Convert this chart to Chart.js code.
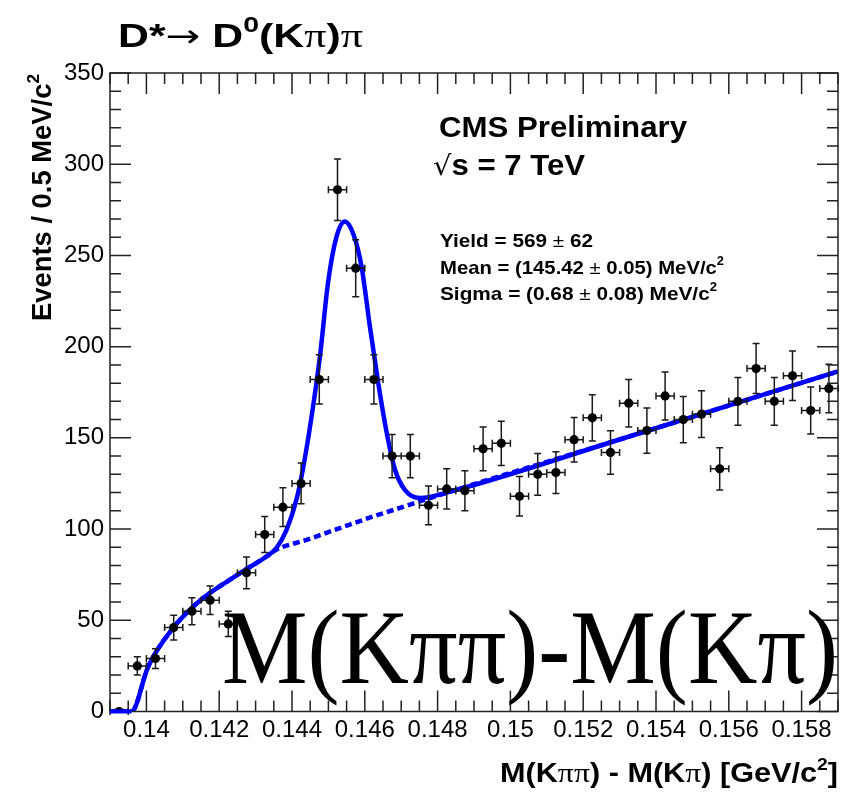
<!DOCTYPE html>
<html>
<head>
<meta charset="utf-8">
<title>D* to D0(K pi) pi</title>
<script src="https://cdn.jsdelivr.net/npm/chart.js@4.4.1/dist/chart.umd.min.js"></script>
<style>
  html, body { margin: 0; padding: 0; background: #fff; }
</style>
</head>
<body>
<canvas id="massChart" width="864" height="794"></canvas>
<script>
// bin centres, GeV/c^2 (0.5 MeV bins)
const massBins = [0.13925, 0.13975, 0.14025, 0.14075, 0.14125, 0.14175, 0.14225, 0.14275, 0.14325, 0.14375,
  0.14425, 0.14475, 0.14525, 0.14575, 0.14625, 0.14675, 0.14725, 0.14775, 0.14825, 0.14875,
  0.14925, 0.14975, 0.15025, 0.15075, 0.15125, 0.15175, 0.15225, 0.15275, 0.15325, 0.15375,
  0.15425, 0.15475, 0.15525, 0.15575, 0.15625, 0.15675, 0.15725, 0.15775, 0.15825, 0.15875];
// events per bin
const counts = [0, 25, 29, 46, 55, 61, 48, 76, 97, 112,
  125, 182, 286, 243, 182, 140, 140, 113, 122, 121,
  144, 147, 118, 130, 131, 149, 161, 142, 169, 154,
  173, 160, 163, 133, 170, 188, 170, 184, 165, 177];

// total fit (signal + background)
const fitMass = [0.139, 0.13959, 0.14005, 0.14073, 0.14124, 0.14174, 0.14229, 0.14272, 0.1433, 0.14357,
  0.14385, 0.14412, 0.14431, 0.14454, 0.14477, 0.14499, 0.14522, 0.14545, 0.14568, 0.14591,
  0.14614, 0.14637, 0.1466, 0.14683, 0.1471, 0.14751, 0.1485, 0.153, 0.159];
const fitTotal = [0, 0, 24.7, 45.7, 56.7, 64.9, 72.2, 77.7, 85, 89.6,
  99.6, 116, 134, 162, 195, 235, 260, 268.6, 262, 244,
  211, 180, 153, 132.5, 121.5, 117, 121.4, 149.1, 186.4];

// background only (dashed)
const bgMass = [0.139, 0.13959, 0.14005, 0.14073, 0.14124, 0.14174, 0.14229, 0.14272, 0.1433, 0.14357,
  0.1444, 0.14531, 0.14623, 0.14715, 0.14779, 0.153, 0.159];
const bgLevel = [0, 0, 24.7, 45.7, 56.7, 64.9, 72.2, 77.7, 85, 88.7,
  94.1, 100.5, 106.9, 112.8, 117, 149.1, 186.4];

const xTicks = [0.14, 0.142, 0.144, 0.146, 0.148, 0.15, 0.152, 0.154, 0.156, 0.158];
const yTicks = [0, 50, 100, 150, 200, 250, 300, 350];

const halfBin = 0.00025;
const SANS = '"Liberation Sans", Arial, sans-serif';
const SERIF = '"Liberation Serif", "Times New Roman", serif';

// draw a row of text pieces, stretched to a given width
function drawRuns(ctx, runs, x, y, width, align) {
  let w = 0;
  runs.forEach(r => { ctx.font = r.f; w += ctx.measureText(r.t).width; });
  const sx = width ? width / w : 1;
  ctx.save();
  ctx.translate(align === 'right' ? x - w * sx : x, y);
  ctx.scale(sx, 1);
  let cx = 0;
  runs.forEach(r => {
    ctx.font = r.f;
    ctx.fillText(r.t, cx, r.dy || 0);
    cx += ctx.measureText(r.t).width;
  });
  ctx.restore();
}

const rootStyle = {
  id: 'rootStyle',
  beforeDatasetDraw(chart, args) {
    if (args.index !== 0) return;
    const { ctx, scales: { x, y } } = chart;
    ctx.save();
    ctx.strokeStyle = '#1a1a1a';
    ctx.lineWidth = 1.5;
    ctx.beginPath();
    massBins.forEach((m, i) => {
      const c = counts[i], e = Math.sqrt(c);
      const px = x.getPixelForValue(m), py = y.getPixelForValue(c);
      const xl = x.getPixelForValue(m - halfBin), xr = x.getPixelForValue(m + halfBin);
      ctx.moveTo(xl, py); ctx.lineTo(xr, py);
      ctx.moveTo(xl, py - 3.5); ctx.lineTo(xl, py + 3.5);
      ctx.moveTo(xr, py - 3.5); ctx.lineTo(xr, py + 3.5);
      if (e > 0) {
        const yt = y.getPixelForValue(c + e), yb = y.getPixelForValue(c - e);
        ctx.moveTo(px, yt); ctx.lineTo(px, yb);
        ctx.moveTo(px - 3.5, yt); ctx.lineTo(px + 3.5, yt);
        ctx.moveTo(px - 3.5, yb); ctx.lineTo(px + 3.5, yb);
      }
    });
    ctx.stroke();
    ctx.restore();
  },
  afterDraw(chart) {
    const { ctx, chartArea: a, scales: { x, y } } = chart;
    ctx.save();
    // frame and inside ticks
    ctx.strokeStyle = '#222';
    ctx.lineWidth = 1.5;
    ctx.strokeRect(a.left, a.top, a.right - a.left, a.bottom - a.top);
    ctx.beginPath();
    for (let k = 0; k <= 40; k++) {
      const px = x.getPixelForValue(0.139 + k * 0.0005);
      const len = k % 4 === 2 ? 21 : 11;
      ctx.moveTo(px, a.bottom); ctx.lineTo(px, a.bottom - len);
      ctx.moveTo(px, a.top); ctx.lineTo(px, a.top + len);
    }
    for (let k = 0; k <= 35; k++) {
      const py = y.getPixelForValue(k * 10);
      const len = k % 5 === 0 ? 21 : 11;
      ctx.moveTo(a.left, py); ctx.lineTo(a.left + len, py);
      ctx.moveTo(a.right, py); ctx.lineTo(a.right - len, py);
    }
    ctx.stroke();

    // flat part of the fit below threshold sits on the axis
    ctx.strokeStyle = '#0000ff';
    ctx.lineWidth = 4;
    ctx.beginPath();
    ctx.moveTo(x.getPixelForValue(fitMass[0]), y.getPixelForValue(fitTotal[0]));
    ctx.lineTo(x.getPixelForValue(fitMass[1]), y.getPixelForValue(fitTotal[1]));
    ctx.stroke();

    ctx.fillStyle = '#000';
    ctx.textBaseline = 'alphabetic';
    ctx.textAlign = 'left';
    const B = s => 'bold ' + s + 'px ' + SANS;
    const N = s => s + 'px ' + SANS;
    const S = s => s + 'px ' + SERIF;

    // title
    drawRuns(ctx, [
      { t: 'D*', f: B(33) },
      { t: '\u2192', f: '32px "DejaVu Sans"' },
      { t: ' D', f: B(33) },
      { t: '0', f: B(22), dy: -15 },
      { t: '(K', f: B(33) },
      { t: '\u03c0', f: S(34) },
      { t: ')', f: B(33) },
      { t: '\u03c0', f: S(34) }
    ], 118, 47, 245);

    drawRuns(ctx, [{ t: 'CMS Preliminary', f: B(29) }], 439, 137, 248);
    drawRuns(ctx, [
      { t: '\u221a', f: '27px "DejaVu Sans"' },
      { t: 's = 7 TeV', f: B(29) }
    ], 433, 175, 152);

    drawRuns(ctx, [
      { t: 'Yield = 569 ', f: B(19) },
      { t: '\u00b1', f: N(19) },
      { t: ' 62', f: B(19) }
    ], 440, 247, 153);
    drawRuns(ctx, [
      { t: 'Mean = (145.42 ', f: B(19) },
      { t: '\u00b1', f: N(19) },
      { t: ' 0.05) MeV/c', f: B(19) },
      { t: '2', f: B(12), dy: -9 }
    ], 440, 274, 284);
    drawRuns(ctx, [
      { t: 'Sigma = (0.68 ', f: B(19) },
      { t: '\u00b1', f: N(19) },
      { t: ' 0.08) MeV/c', f: B(19) },
      { t: '2', f: B(12), dy: -9 }
    ], 440, 300, 277);

    // axis titles
    drawRuns(ctx, [
      { t: 'M(K', f: B(27) },
      { t: '\u03c0\u03c0', f: S(28) },
      { t: ') - M(K', f: B(27) },
      { t: '\u03c0', f: S(28) },
      { t: ') [GeV/c', f: B(27) },
      { t: '2', f: B(17), dy: -12 },
      { t: ']', f: B(27) }
    ], 838, 782, 338, 'right');

    ctx.save();
    ctx.translate(51, 74);
    ctx.rotate(-Math.PI / 2);
    drawRuns(ctx, [
      { t: 'Events / 0.5 MeV/c', f: B(27) },
      { t: '2', f: B(17), dy: -12 }
    ], 0, 0, 247, 'right');
    ctx.restore();

    // large overlaid label
    drawRuns(ctx, [{ t: 'M(K\u03c0\u03c0)-M(K\u03c0)', f: S(106) }], 222, 683, 616);
    ctx.restore();
  }
};

new Chart(document.getElementById('massChart'), {
  type: 'scatter',
  data: {
    datasets: [
      {
        label: 'Data',
        data: massBins.map((m, i) => ({ x: m, y: counts[i] })),
        pointRadius: 4.6,
        pointHoverRadius: 4.6,
        backgroundColor: '#000',
        borderWidth: 0,
        order: 0
      },
      {
        label: 'Fit',
        data: fitMass.map((m, i) => ({ x: m, y: fitTotal[i] })),
        showLine: true,
        borderColor: '#0000ff',
        borderWidth: 4.5,
        pointRadius: 0,
        cubicInterpolationMode: 'monotone',
        order: 1
      },
      {
        label: 'Background',
        data: bgMass.map((m, i) => ({ x: m, y: bgLevel[i] })),
        showLine: true,
        borderColor: '#0000ff',
        borderWidth: 4.5,
        borderDash: [7, 4],
        pointRadius: 0,
        cubicInterpolationMode: 'monotone',
        order: 2
      }
    ]
  },
  options: {
    responsive: false,
    animation: false,
    events: [],
    layout: { padding: { top: 73, right: 26, left: 0, bottom: 0 } },
    plugins: { legend: { display: false }, tooltip: { enabled: false } },
    scales: {
      x: {
        type: 'linear',
        min: 0.139,
        max: 0.159,
        afterFit: s => { s.height = 82.5; },
        afterBuildTicks: s => { s.ticks = xTicks.map(v => ({ value: v })); },
        ticks: {
          callback: v => String(+v.toFixed(3)),
          font: { family: SANS, size: 24 },
          color: '#000',
          padding: 4,
          maxRotation: 0,
          autoSkip: false
        },
        grid: { display: false, drawTicks: false },
        border: { display: false }
      },
      y: {
        min: 0,
        max: 350,
        afterFit: s => { s.width = 110; },
        afterBuildTicks: s => { s.ticks = yTicks.map(v => ({ value: v })); },
        ticks: {
          font: { family: SANS, size: 24 },
          color: '#000',
          padding: 6
        },
        grid: { display: false, drawTicks: false },
        border: { display: false }
      }
    }
  },
  plugins: [rootStyle]
});
</script>
</body>
</html>
